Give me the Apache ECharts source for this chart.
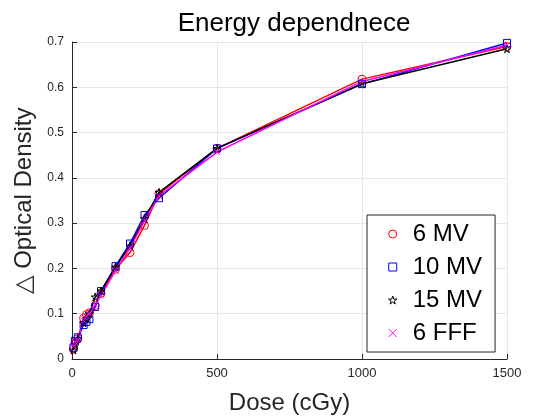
<!DOCTYPE html>
<html>
<head>
<meta charset="utf-8">
<script src="https://cdn.jsdelivr.net/npm/echarts@6/dist/echarts.min.js"></script>
<style>html,body{margin:0;padding:0;background:#fff}#c{width:560px;height:420px}</style>
</head>
<body>
<div id="c"></div>
<script>
const doses = [5, 10, 20, 40, 50, 60, 80, 100, 150, 200, 250, 300, 500, 1000, 1500];
const mv6  = [0.022, 0.035, 0.045, 0.090, 0.098, 0.102, 0.118, 0.145, 0.198, 0.235, 0.295, 0.365, 0.465, 0.618, 0.690];
const mv10 = [0.025, 0.040, 0.048, 0.075, 0.082, 0.088, 0.115, 0.150, 0.205, 0.255, 0.318, 0.355, 0.465, 0.607, 0.698];
const mv15 = [0.020, 0.032, 0.045, 0.080, 0.090, 0.100, 0.137, 0.150, 0.203, 0.250, 0.310, 0.368, 0.465, 0.608, 0.685];
const fff6 = [0.028, 0.038, 0.042, 0.085, 0.095, 0.100, 0.120, 0.140, 0.195, 0.245, 0.305, 0.360, 0.457, 0.613, 0.693];
const seriesNames = ['6 MV', '10 MV', '15 MV', '6 FFF'];
const xTicks = [0, 500, 1000, 1500];
const yTicks = [0, 0.1, 0.2, 0.3, 0.4, 0.5, 0.6, 0.7];

const STAR = 'path://M50,0 L61,35 L98,35 L68,57 L79,91 L50,70 L21,91 L32,57 L2,35 L39,35 Z';
const CROSS = 'path://M0,0 L10,10 M10,0 L0,10';
const SQUARE = 'path://M0,0 L10,0 L10,10 L0,10 Z';
const styles = [
  {color: '#ff0000', symbol: 'circle', size: 8},
  {color: '#0000ff', symbol: SQUARE, size: 7},
  {color: '#000000', symbol: STAR, size: 8},
  {color: '#ff00ff', symbol: CROSS, size: 6}
];
const allData = [mv6, mv10, mv15, fff6];
const font = 'Liberation Sans, Arial, Helvetica, sans-serif';

const series = allData.map((vals, i) => ({
  name: seriesNames[i],
  type: 'line',
  data: doses.map((d, k) => [d, vals[k]]),
  symbol: styles[i].symbol,
  symbolSize: styles[i].size,
  showAllSymbol: true,
  lineStyle: {color: styles[i].color, width: 1.5},
  itemStyle: {color: 'none', borderColor: styles[i].color, borderWidth: 1},
  emphasis: {disabled: true},
  animation: false
}));

const chart = echarts.init(document.getElementById('c'), null, {renderer: 'canvas'});
chart.setOption({
  animation: false,
  title: {
    text: 'Energy dependnece',
    left: 289, top: 6, textAlign: 'center',
    textStyle: {fontFamily: font, fontSize: 26, fontWeight: 'normal', color: '#000'}
  },
  grid: {left: 72, right: 53, top: 42, bottom: 56},
  legend: {
    orient: 'vertical',
    left: 367, top: 215,
    padding: [7, 13, 7, 19],
    itemGap: 9,
    itemWidth: 30, itemHeight: 8,
    symbolKeepAspect: true,
    borderColor: '#262626', borderWidth: 1, backgroundColor: '#fff',
    textStyle: {fontFamily: font, fontSize: 24, color: '#000'},
    data: seriesNames.map((n, i) => ({
      name: n,
      icon: styles[i].symbol,
      itemStyle: {color: 'none', borderColor: styles[i].color, borderWidth: 1}
    }))
  },
  xAxis: {
    type: 'value', min: xTicks[0], max: xTicks[xTicks.length - 1], interval: 500,
    name: 'Dose (cGy)', nameLocation: 'middle', nameGap: 32,
    nameTextStyle: {fontFamily: font, fontSize: 24, color: '#262626'},
    axisLine: {show: true, lineStyle: {color: '#262626', width: 1}},
    axisTick: {show: true, inside: true, length: 5, lineStyle: {color: '#262626'}},
    axisLabel: {fontFamily: font, fontSize: 13, color: '#262626', margin: 8,
      formatter: v => String(v)},
    splitLine: {show: true, lineStyle: {color: '#e6e6e6', width: 1}}
  },
  yAxis: {
    type: 'value', min: yTicks[0], max: yTicks[yTicks.length - 1], interval: 0.1,
    name: '△ Optical Density', nameLocation: 'middle', nameGap: 27,
    nameTextStyle: {fontFamily: font, fontSize: 24, color: '#262626'},
    axisLine: {show: true, lineStyle: {color: '#262626', width: 1}},
    axisTick: {show: true, inside: true, length: 5, lineStyle: {color: '#262626'}},
    axisLabel: {fontFamily: font, fontSize: 12, color: '#262626', margin: 8,
      formatter: v => (Math.round(v * 10) / 10).toString()},
    splitLine: {show: true, lineStyle: {color: '#e6e6e6', width: 1}}
  },
  series: series
});
</script>
</body>
</html>
